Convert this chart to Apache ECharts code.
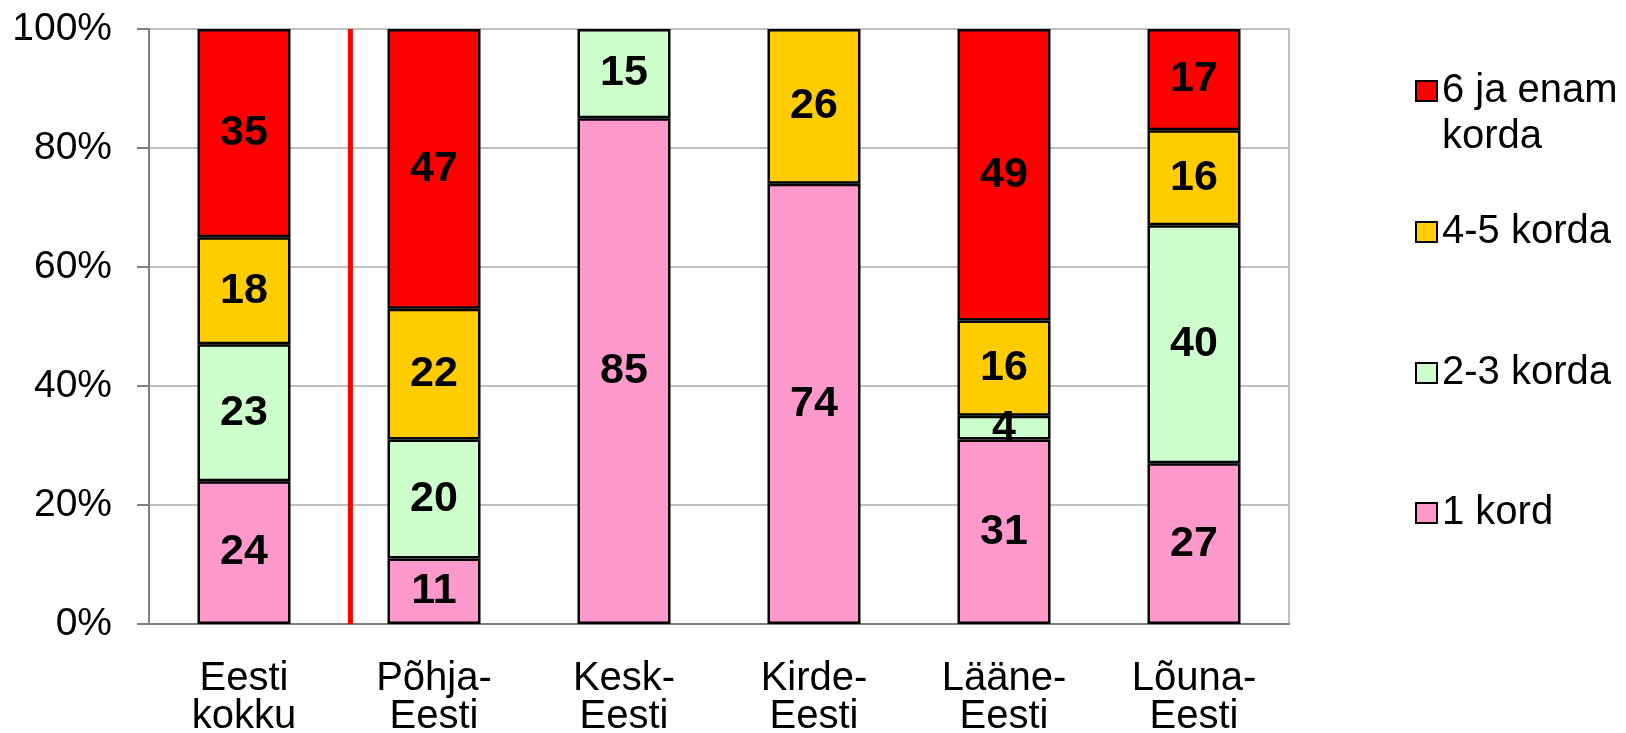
<!DOCTYPE html>
<html>
<head>
<meta charset="utf-8">
<script src="https://cdn.jsdelivr.net/npm/echarts@6/dist/echarts.min.js"></script>
<style>
  html, body { margin: 0; padding: 0; background: #ffffff; }
  #myChart { width: 1626px; height: 733px; }
</style>
</head>
<body>
<div id="myChart"></div>
<script>
// piirkonnad
var categories = ["Eesti\nkokku", "Põhja-\nEesti", "Kesk-\nEesti", "Kirde-\nEesti", "Lääne-\nEesti", "Lõuna-\nEesti"];
// protsendid, null = puudub
var kord1 = [24, 11, 85, 74, 31, 27];
var korda23 = [23, 20, 15, null, 4, 40];
var korda45 = [18, 22, null, 26, 16, 16];
var korda6 = [35, 47, null, null, 49, 17];
var yTicks = [0, 20, 40, 60, 80, 100];
// punane eraldusjoon (kategooriaskaalal)
var separatorAt = 1.06;

var font = "'Liberation Sans', Arial, sans-serif";
var myChart = echarts.init(document.getElementById("myChart"));

function barSeries(name, data, color) {
  return {
    name: name,
    type: "bar",
    stack: "kokku",
    data: data,
    barWidth: 93,
    itemStyle: { color: color, borderColor: "#000", borderWidth: 2.5 },
    label: {
      show: true,
      position: "inside",
      color: "#000",
      fontWeight: "bold",
      fontSize: 43,
      fontFamily: font
    }
  };
}

function legendItem(name, top, fmt) {
  return {
    data: [name],
    orient: "vertical",
    left: 1415,
    top: top,
    padding: 0,
    itemWidth: 21,
    itemHeight: 20,
    icon: "rect",
    selectedMode: false,
    formatter: fmt,
    textStyle: { fontSize: 40, fontFamily: font, color: "#000", lineHeight: 46 }
  };
}

myChart.setOption({
  animation: false,
  grid: {
    left: 149, right: 337, top: 29, bottom: 109,
    outerBoundsMode: "none",
    containLabel: false,
    show: true, borderColor: "#c0c0c0", borderWidth: 2
  },
  legend: [
    // tühi esimene rida, et ruut jääks esimese rea kõrgusele
    legendItem("6 ja enam\nkorda", 22, function (n) { return " \n" + n; }),
    legendItem("4-5 korda", 209),
    legendItem("2-3 korda", 350),
    legendItem("1 kord", 490)
  ],
  xAxis: [
    {
      type: "category",
      data: categories,
      axisLine: { lineStyle: { color: "#808080", width: 2 } },
      axisTick: { length: 12, lineStyle: { color: "#808080", width: 2 } },
      axisLabel: { fontSize: 40, fontFamily: font, color: "#000", lineHeight: 38, margin: 36 }
    },
    { type: "value", min: 0, max: 6, show: false }
  ],
  yAxis: {
    type: "value",
    min: 0,
    max: 100,
    interval: 20,
    axisLine: { show: true, lineStyle: { color: "#808080", width: 2 } },
    axisTick: { show: true, length: 12, lineStyle: { color: "#808080", width: 2 } },
    splitLine: { lineStyle: { color: "#c0c0c0", width: 2 } },
    axisLabel: {
      fontSize: 39, fontFamily: font, color: "#000", margin: 37,
      formatter: function (v) { return yTicks.indexOf(v) >= 0 ? v + "%" : ""; }
    }
  },
  series: [
    barSeries("1 kord", kord1, "#ff99cc"),
    barSeries("2-3 korda", korda23, "#ccffcc"),
    barSeries("4-5 korda", korda45, "#ffcc00"),
    barSeries("6 ja enam\nkorda", korda6, "#ff0000"),
    {
      type: "line",
      xAxisIndex: 1,
      data: [[separatorAt, 0], [separatorAt, 100]],
      symbol: "none",
      silent: true,
      lineStyle: { color: "#ff0000", width: 5 },
      z: 1
    }
  ]
});
</script>
</body>
</html>
